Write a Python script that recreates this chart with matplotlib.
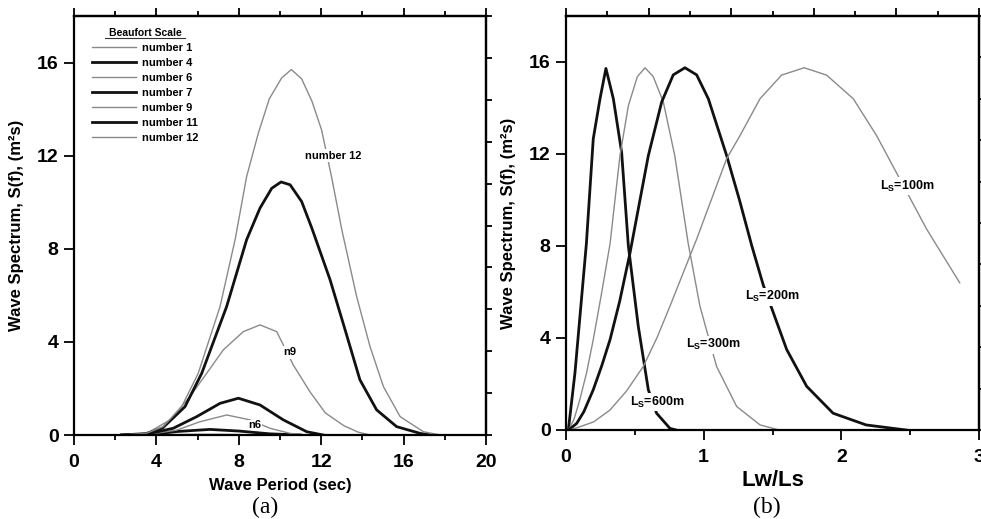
import numpy as np
import matplotlib
matplotlib.use("Agg")
import matplotlib.pyplot as plt
from matplotlib.lines import Line2D

plt.rcParams["font.family"] = ["Liberation Sans", "DejaVu Sans"]
plt.rcParams["font.weight"] = "bold"
plt.rcParams["mathtext.fontset"] = "custom"
plt.rcParams["mathtext.bf"] = "Liberation Sans:bold"
plt.rcParams["mathtext.rm"] = "Liberation Sans:bold"

GREY = "#8a8a8a"
BLACK = "#111111"

# (a) Beaufort scale spectra vs wave period
T_n1 = [2.5, 4.0, 6.0, 7.0, 8.5, 10.0]
S_n1 = [0, 0.01, 0.03, 0.03, 0.01, 0]
T_n4 = [2.5, 4.0, 5.0, 6.6, 8.0, 9.5, 11.0]
S_n4 = [0, 0.05, 0.15, 0.24, 0.17, 0.05, 0]
T_n6 = [2.3, 3.8, 4.98, 6.12, 7.41, 8.54, 9.51, 10.49, 11.2]
S_n6 = [0, 0.05, 0.21, 0.57, 0.86, 0.65, 0.29, 0.07, 0]
T_n7 = [2.3, 3.5, 4.82, 5.96, 7.09, 7.98, 9.03, 10.16, 11.3, 12.1]
S_n7 = [0, 0.03, 0.29, 0.79, 1.36, 1.58, 1.29, 0.65, 0.14, 0]
T_n9 = [2.3, 3.5, 4.66, 5.63, 6.44, 7.25, 8.22, 9.03, 9.84, 10.65, 11.46,
        12.2, 13.1, 13.8, 14.4]
S_n9 = [0, 0.05, 0.65, 1.65, 2.65, 3.66, 4.44, 4.73, 4.44, 3.0, 1.85,
        0.95, 0.4, 0.12, 0]
T_n11 = [2.3, 3.5, 4.3, 5.39, 6.2, 7.41, 8.38, 9.03, 9.6, 10.05, 10.49,
         11.05, 11.54, 12.43, 13.16, 13.88, 14.69, 15.66, 16.8, 17.3]
S_n11 = [0, 0.06, 0.3, 1.22, 2.65, 5.52, 8.39, 9.75, 10.6, 10.87, 10.75,
         10.03, 8.9, 6.67, 4.52, 2.37, 1.08, 0.36, 0.07, 0]
T_n12 = [2.2, 3.5, 4.33, 5.23, 6.03, 7.09, 7.82, 8.38, 8.95, 9.48, 10.08,
         10.55, 11.05, 11.55, 12.02, 12.5, 13.0, 13.72, 14.37, 15.02,
         15.83, 16.96, 17.8]
S_n12 = [0, 0.07, 0.36, 1.22, 2.65, 5.52, 8.39, 11.1, 12.97, 14.44, 15.34,
         15.7, 15.3, 14.34, 13.1, 11.1, 8.82, 5.95, 3.8, 2.08, 0.79, 0.14, 0]

# (b) spectra vs Lw/Ls for ship lengths
X_600 = [0.017, 0.065, 0.148, 0.198, 0.247, 0.29, 0.344, 0.404, 0.453,
         0.525, 0.598, 0.658, 0.755, 0.8]
S_600 = [0, 2.48, 8.1, 12.66, 14.4, 15.72, 14.4, 12.08, 8.0, 4.51, 1.75,
         0.73, 0.07, 0]
X_300 = [0.02, 0.06, 0.1, 0.15, 0.198, 0.26, 0.32, 0.392, 0.453, 0.518,
         0.574, 0.634, 0.707, 0.79, 0.888, 0.973, 1.094, 1.24, 1.41, 1.55]
S_300 = [0, 0.5, 1.31, 2.5, 3.93, 6.0, 8.1, 11.93, 14.1, 15.36, 15.75,
         15.36, 14.26, 11.93, 8.1, 5.38, 2.76, 1.02, 0.22, 0]
X_200 = [0.02, 0.078, 0.13, 0.198, 0.26, 0.32, 0.39, 0.465, 0.598, 0.695,
         0.779, 0.864, 0.949, 1.034, 1.167, 1.26, 1.35, 1.433, 1.506, 1.603,
         1.748, 1.94, 2.18, 2.47]
S_200 = [0, 0.29, 0.8, 1.75, 2.8, 3.93, 5.6, 7.7, 11.93, 14.26, 15.44,
         15.75, 15.44, 14.4, 11.93, 10.0, 8.0, 6.3, 5.1, 3.5, 1.9, 0.73,
         0.22, 0]
X_100 = [0.03, 0.1, 0.2, 0.32, 0.44, 0.561, 0.66, 0.755, 0.949, 1.167,
         1.264, 1.409, 1.566, 1.73, 1.893, 2.087, 2.256, 2.426, 2.62, 2.86]
S_100 = [0, 0.14, 0.35, 0.87, 1.7, 2.76, 4.0, 5.38, 8.3, 11.8, 12.8, 14.4,
         15.43, 15.75, 15.43, 14.4, 12.8, 10.9, 8.73, 6.4]

fig = plt.figure(figsize=(9.81, 5.19), dpi=100)
W, H = 981.0, 519.0
axa = fig.add_axes([74 / W, 1 - 435 / H, 412 / W, 419 / H])
axb = fig.add_axes([566 / W, 1 - 430 / H, 413 / W, 414 / H])


def style(ax, xmaj, xmin, top_maj, top_min, right_t, xlim):
    ax.set_xlim(*xlim)
    ax.set_ylim(0, 18)
    for sp in ax.spines.values():
        sp.set_linewidth(1.6)
    ax.set_xticks(xmaj)
    ax.set_xticks(xmin, minor=True)
    ax.set_yticks([0, 4, 8, 12, 16])
    ax.tick_params(which="major", direction="out", length=7, width=1.3,
                   labelsize=14)
    ax.tick_params(axis="x", which="major", pad=6.5)
    ax.tick_params(axis="y", which="major", pad=4)
    ax.tick_params(which="minor", direction="out", length=3.5, width=1.3)
    ax.tick_params(axis="y", which="minor", left=False)
    for lab in ax.get_xticklabels() + ax.get_yticklabels():
        lab.set_fontweight("bold")
    top = ax.secondary_xaxis("top")
    top.set_xticks(top_maj)
    top.set_xticks(top_min, minor=True)
    top.set_xticklabels([])
    top.tick_params(which="major", direction="out", length=6, width=1.3)
    top.tick_params(which="minor", direction="out", length=3.5, width=1.3)
    top.spines["top"].set_linewidth(1.6)
    right = ax.secondary_yaxis("right")
    right.set_yticks(right_t)
    right.set_yticklabels([])
    right.tick_params(direction="out", length=4, width=1.3)
    right.spines["right"].set_linewidth(1.6)


style(axa, [0, 4, 8, 12, 16, 20], [2, 6, 10, 14, 18],
      [0, 4, 8, 12, 16, 20], [2, 6, 10, 14, 18],
      np.arange(0, 18.01, 1.8), (0, 20))
style(axb, [0, 1, 2, 3], [0.5, 1.5, 2.5],
      np.arange(0, 3.01, 0.6), np.arange(0.3, 3.0, 0.6),
      np.arange(0, 18.01, 1.8), (0, 3))

# panel (a)
series_a = [(T_n1, S_n1, GREY, 1.0, "number 1"),
            (T_n4, S_n4, BLACK, 2.0, "number 4"),
            (T_n6, S_n6, GREY, 1.0, "number 6"),
            (T_n7, S_n7, BLACK, 2.0, "number 7"),
            (T_n9, S_n9, GREY, 1.0, "number 9"),
            (T_n11, S_n11, BLACK, 2.0, "number 11"),
            (T_n12, S_n12, GREY, 1.0, "number 12")]
for t, s, c, lw, lab in series_a:
    axa.plot(t, s, color=c, lw=lw, label=lab, zorder=2)

leg = axa.legend(loc="upper left", bbox_to_anchor=(0.043, 0.971),
                 frameon=False, fontsize=8, title="Beaufort Scale",
                 title_fontsize=7.5, handlelength=4.0, handletextpad=0.5,
                 labelspacing=0.45, borderpad=0, borderaxespad=0)
leg.get_title().set_fontweight("bold")
for t in leg.get_texts():
    t.set_fontweight("bold")
fig.add_artist(Line2D([105 / W, 185 / W], [1 - 37.5 / H, 1 - 37.5 / H],
                      color="#333333", lw=0.8))

lbl = dict(fontsize=8, fontweight="bold", ha="center", va="center",
           bbox=dict(facecolor="white", edgecolor="none", pad=1.0), zorder=3)
axa.text(12.57, 12.0, "number 12", **lbl)
axa.text(10.49, 3.55, "n9", **lbl)
axa.text(8.79, 0.43, "n6", **dict(lbl, bbox=dict(facecolor="white",
                                                  edgecolor="none", pad=0.2)))

axa.set_xlabel("Wave Period (sec)", fontsize=12, fontweight="bold",
               labelpad=5)
axa.set_ylabel("Wave Spectrum, S(f), (m²s)", fontsize=12,
               fontweight="bold", labelpad=9)

# panel (b)
series_b = [(X_600, S_600, BLACK, 2.0), (X_300, S_300, GREY, 1.0),
            (X_200, S_200, BLACK, 2.0), (X_100, S_100, GREY, 1.0)]
for x, s, c, lw in series_b:
    axb.plot(x, s, color=c, lw=lw, zorder=2)

lblb = dict(lbl, fontsize=9)
axb.text(2.48, 10.6, r"L$_\mathbf{S}$=100m", **lblb)
axb.text(1.5, 5.8, r"L$_\mathbf{S}$=200m", **lblb)
axb.text(1.07, 3.7, r"L$_\mathbf{S}$=300m", **lblb)
axb.text(0.66, 1.2, r"L$_\mathbf{S}$=600m", **lblb)

axb.set_xlabel("Lw/Ls", fontsize=16, fontweight="bold", labelpad=3)
axb.set_ylabel("Wave Spectrum, S(f), (m²s)", fontsize=12,
               fontweight="bold", labelpad=9)

fig.text(265 / W, 1 - 507 / H, "(a)", fontsize=17, ha="center", va="center",
         family=["Liberation Serif", "DejaVu Serif"], fontweight="normal")
fig.text(767 / W, 1 - 507 / H, "(b)", fontsize=17, ha="center", va="center",
         family=["Liberation Serif", "DejaVu Serif"], fontweight="normal")

fig.savefig("out.png", dpi=100)
